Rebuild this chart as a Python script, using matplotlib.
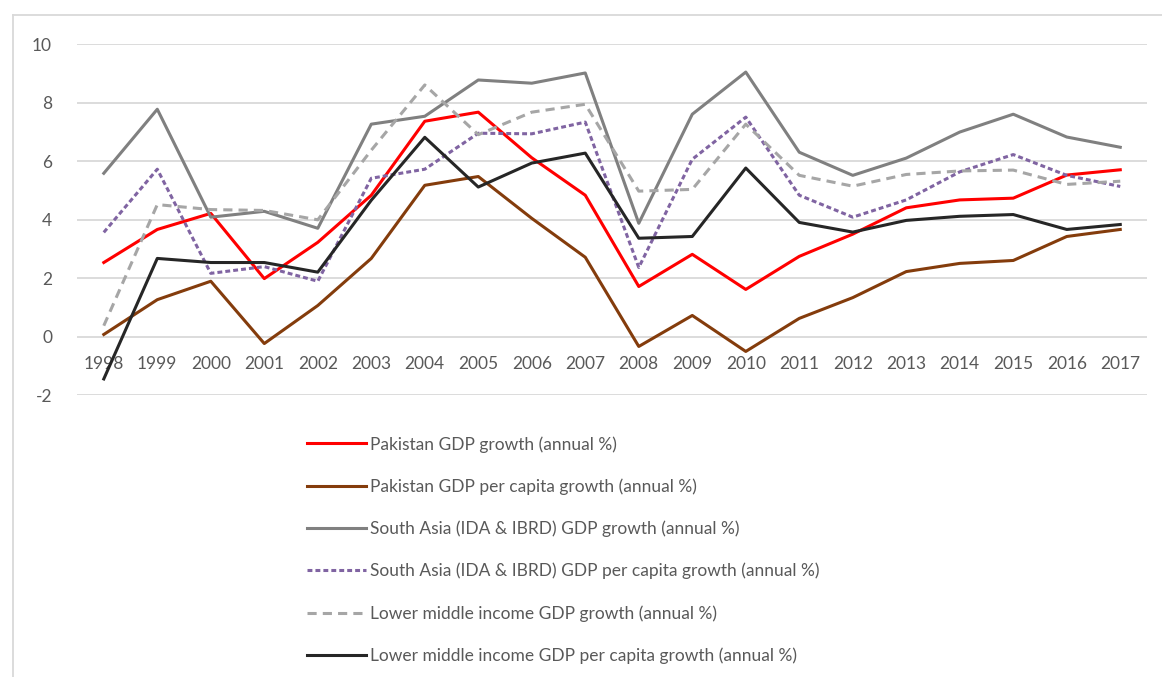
import matplotlib
matplotlib.use("Agg")
import matplotlib.pyplot as plt
from matplotlib.lines import Line2D

# Data
years = [str(y) for y in range(1998, 2018)]

pak_gdp = [2.53, 3.66, 4.21, 1.98, 3.22, 4.83, 7.36, 7.67, 6.11, 4.83,
           1.71, 2.81, 1.61, 2.74, 3.50, 4.40, 4.67, 4.73, 5.52, 5.70]
pak_gdp_pc = [0.07, 1.26, 1.89, -0.24, 1.06, 2.67, 5.17, 5.47, 4.04, 2.71,
              -0.34, 0.72, -0.51, 0.62, 1.33, 2.22, 2.50, 2.60, 3.42, 3.66]
sa_gdp = [5.58, 7.77, 4.08, 4.28, 3.70, 7.26, 7.53, 8.77, 8.66, 9.01,
          3.87, 7.60, 9.04, 6.30, 5.51, 6.10, 6.99, 7.60, 6.82, 6.47]
sa_gdp_pc = [3.56, 5.72, 2.16, 2.39, 1.89, 5.41, 5.72, 6.95, 6.93, 7.33,
             2.36, 6.06, 7.50, 4.83, 4.08, 4.67, 5.63, 6.22, 5.51, 5.13]
lmi_gdp = [0.37, 4.51, 4.34, 4.31, 3.99, 6.37, 8.60, 6.90, 7.67, 7.94,
           4.97, 5.03, 7.26, 5.51, 5.14, 5.54, 5.66, 5.69, 5.20, 5.31]
lmi_gdp_pc = [-1.45, 2.67, 2.53, 2.53, 2.20, 4.66, 6.81, 5.11, 5.93, 6.27,
              3.36, 3.42, 5.76, 3.90, 3.57, 3.97, 4.11, 4.17, 3.66, 3.83]

labels = [
    "Pakistan GDP growth (annual %)",
    "Pakistan GDP per capita growth (annual %)",
    "South Asia (IDA & IBRD) GDP growth (annual %)",
    "South Asia (IDA & IBRD) GDP per capita growth (annual %)",
    "Lower middle income GDP growth (annual %)",
    "Lower middle income GDP per capita growth (annual %)",
]

plt.rcParams["font.family"] = ["Lato", "DejaVu Sans"]
text_color = "#595959"
grid_color = "#D9D9D9"

fig = plt.figure(figsize=(11.62, 6.77), dpi=100)
ax = fig.add_axes([0.0663, 0.4165, 0.9208, 0.5185])

x = range(len(years))
lw = 2.2
ax.plot(x, pak_gdp, color="#FF0000", lw=lw, label=labels[0])
ax.plot(x, pak_gdp_pc, color="#843C0C", lw=lw, label=labels[1])
ax.plot(x, sa_gdp, color="#808080", lw=lw, label=labels[2])
ax.plot(x, sa_gdp_pc, color="#8064A2", lw=lw, dashes=(1.6, 1.0), label=labels[3])
ax.plot(x, lmi_gdp, color="#A6A6A6", lw=lw, dashes=(3.0, 2.0), label=labels[4])
ax.plot(x, lmi_gdp_pc, color="#262626", lw=lw, label=labels[5])

ax.set_xlim(-0.5, len(years) - 0.5)
ax.set_ylim(-2, 10)
ax.set_yticks(range(-2, 11, 2))
ax.set_yticklabels(["-2", "0", "2", "4", "6", "8", "10"])
ax.set_xticks(list(x))
ax.set_xticklabels(years)

ax.grid(axis="y", color=grid_color, lw=1.3)
ax.set_axisbelow(True)
for s in ["top", "right", "left"]:
    ax.spines[s].set_visible(False)
ax.spines["bottom"].set_position(("data", 0))
ax.spines["bottom"].set_visible(False)
ax.tick_params(axis="both", length=0, labelsize=12.5, colors=text_color)
ax.tick_params(axis="x", pad=14)
ax.tick_params(axis="y", pad=18)

leg = fig.legend(loc="upper left", bbox_to_anchor=(307 / 1162, 1 - 436 / 677),
                 frameon=False, fontsize=12.5, handlelength=3.4,
                 handletextpad=0.2, labelspacing=1.48, borderaxespad=0,
                 borderpad=0)
for t in leg.get_texts():
    t.set_color(text_color)

# chart frame (cut off at right/bottom in the reference)
fig.add_artist(Line2D([13 / 1162, 1.0], [1 - 15 / 677, 1 - 15 / 677],
                      color=grid_color, lw=1.3, transform=fig.transFigure))
fig.add_artist(Line2D([13 / 1162, 13 / 1162], [0.0, 1 - 15 / 677],
                      color=grid_color, lw=1.3, transform=fig.transFigure))

fig.savefig("out.png", dpi=100)
